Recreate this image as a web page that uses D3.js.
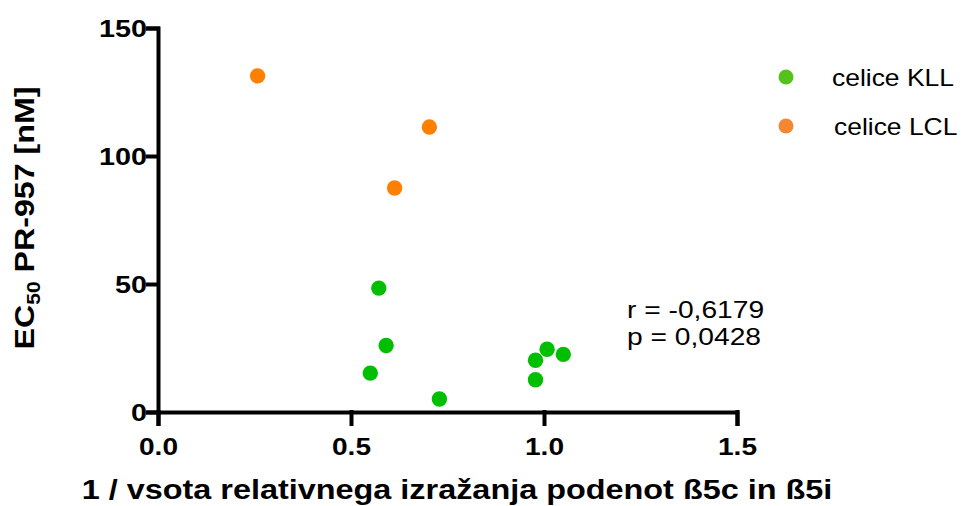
<!DOCTYPE html>
<html>
<head>
<meta charset="utf-8">
<script src="https://cdn.jsdelivr.net/npm/d3@7"></script>
<style>
  html, body { margin: 0; padding: 0; background: #fff; }
  svg { display: block; }
  text { font-family: "Liberation Sans", Arial, sans-serif; fill: #000; }
</style>
</head>
<body>
<svg id="chart" width="966" height="506"></svg>
<script>
// KLL cells (green)
const kllX = [0.572, 0.591, 0.550, 0.729, 0.978, 1.008, 1.050, 0.978];
const kllY = [48.4, 26.0, 15.2, 5.1, 20.2, 24.5, 22.5, 12.6];
// LCL cells (orange)
const lclX = [0.258, 0.703, 0.613];
const lclY = [131.3, 111.3, 87.5];

const xTicks = [0, 0.5, 1.0, 1.5];
const yTicks = [0, 50, 100, 150];
const legendLabels = ["celice KLL", "celice LCL"];
const statLines = ["r = -0,6179", "p = 0,0428"];

const green = "#00bf00", orange = "#ff8000";
const legendGreen = "#55c21b", legendOrange = "#f58733";
const SX = 1.2; // horizontal widening of glyphs

const svg = d3.select("#chart");
const x = d3.scaleLinear().domain([0, 1.5]).range([158, 737]);
const y = d3.scaleLinear().domain([0, 150]).range([412, 28]);

// X axis
const gx = svg.append("g").attr("transform", `translate(0,${y(0)})`)
  .call(d3.axisBottom(x).tickValues(xTicks).tickFormat(d3.format(".1f"))
    .tickSize(12).tickSizeOuter(12));
gx.selectAll("path, line").attr("stroke", "#000").attr("stroke-width", 4)
  .attr("stroke-linecap", "square");
gx.selectAll("text").attr("y", 0).attr("dy", 0)
  .attr("transform", `translate(0,43) scale(1.17,1)`)
  .style("font-size", "24px").style("font-weight", "bold");

// Y axis
const gy = svg.append("g").attr("transform", `translate(${x(0)},0)`)
  .call(d3.axisLeft(y).tickValues(yTicks).tickFormat(d3.format("d"))
    .tickSize(10).tickSizeOuter(10));
gy.selectAll("path, line").attr("stroke", "#000").attr("stroke-width", 4)
  .attr("stroke-linecap", "square");
gy.selectAll("text").attr("x", 0).attr("dy", 0)
  .attr("transform", `translate(-11,8.5) scale(1.2,1)`)
  .style("font-size", "24px").style("font-weight", "bold");
gy.select(".domain").attr("fill", "none");
gx.select(".domain").attr("fill", "none");

// Points
const kll = kllX.map((v, i) => ({x: v, y: kllY[i]}));
const lcl = lclX.map((v, i) => ({x: v, y: lclY[i]}));
svg.append("g").selectAll("circle").data(lcl).join("circle")
  .attr("cx", d => x(d.x)).attr("cy", d => y(d.y)).attr("r", 7.7)
  .attr("fill", orange);
svg.append("g").selectAll("circle").data(kll).join("circle")
  .attr("cx", d => x(d.x)).attr("cy", d => y(d.y)).attr("r", 7.7)
  .attr("fill", green);

// Axis titles
svg.append("text")
  .attr("transform", `translate(457,499) scale(${SX},1)`)
  .attr("text-anchor", "middle")
  .style("font-size", "27px").style("font-weight", "bold")
  .text("1 / vsota relativnega izražanja podenot ß5c in ß5i");

const yt = svg.append("text")
  .attr("transform", `translate(34,218) rotate(-90) scale(1.17,1)`)
  .attr("text-anchor", "middle")
  .style("font-size", "27.5px").style("font-weight", "bold");
yt.append("tspan").text("EC");
yt.append("tspan").attr("dy", 6).style("font-size", "18px").text("50");
yt.append("tspan").attr("dy", -6).text(" PR-957 [nM]");

// Legend
const legend = svg.append("g");
const legendColors = [legendGreen, legendOrange];
const legendRowY = [77, 126];
const legendTextX = [832, 834];
legendLabels.forEach((lab, i) => {
  legend.append("circle").attr("cx", 786).attr("cy", legendRowY[i]).attr("r", 7.5)
    .attr("fill", legendColors[i]);
  legend.append("text")
    .attr("transform", `translate(${legendTextX[i]},${legendRowY[i] + 8.5}) scale(1.15,1)`)
    .style("font-size", "23px")
    .text(lab);
});

// Correlation statistics
statLines.forEach((s, i) => {
  svg.append("text")
    .attr("transform", `translate(627,${318 + i * 27}) scale(1.2,1)`)
    .style("font-size", "23.5px")
    .text(s);
});
</script>
</body>
</html>
